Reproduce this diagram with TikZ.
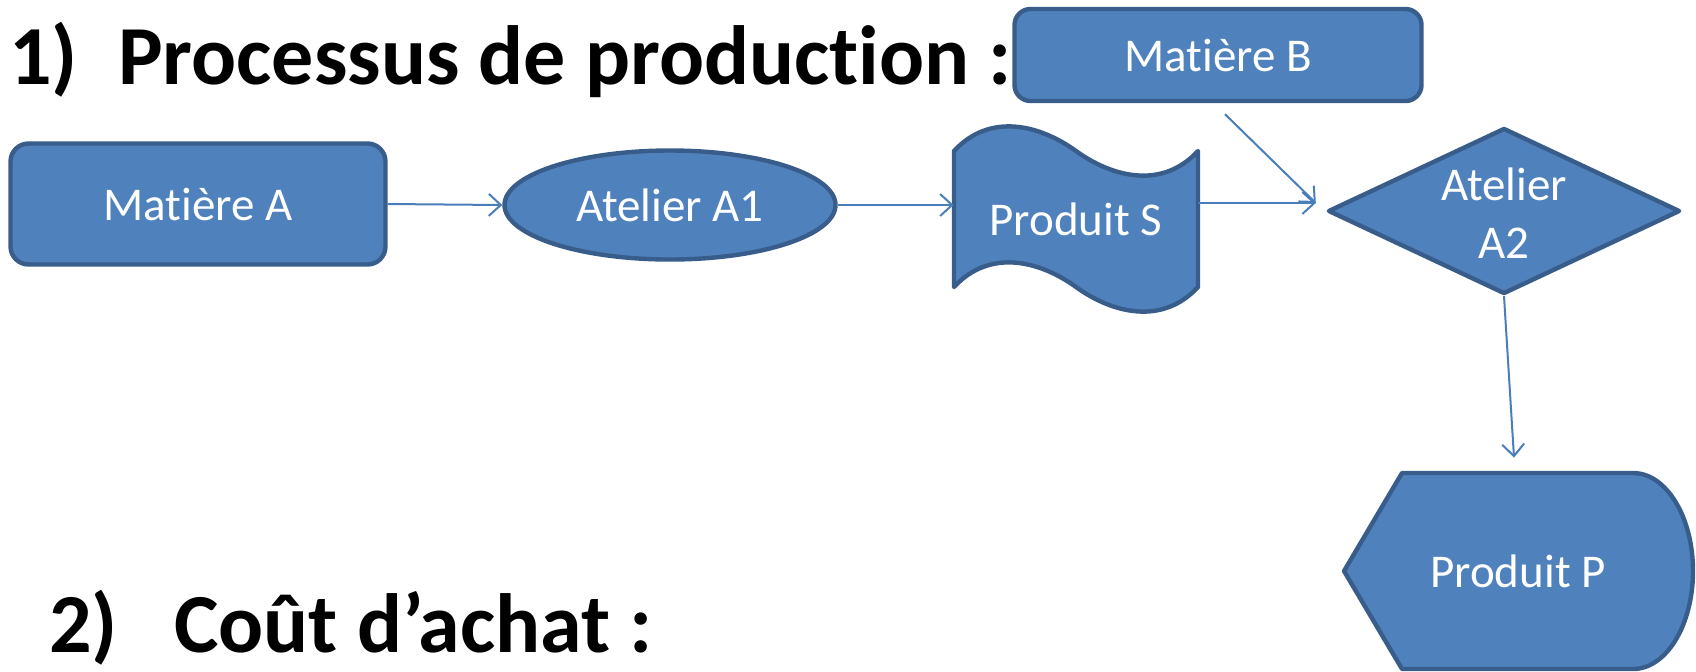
\documentclass[tikz,border=0pt]{standalone}
\usepackage{fontspec}
\setmainfont{Carlito}[Ligatures={NoCommon,NoRare,NoContextual}]
\usetikzlibrary{shapes.geometric,arrows.meta,calc}
\definecolor{fillblue}{HTML}{4F81BD}
\definecolor{edgeblue}{HTML}{385D8A}
\definecolor{linkblue}{HTML}{4A7EBB}
\tikzset{
  shapestyle/.style={draw=edgeblue, fill=fillblue, line width=2.2pt, line join=round},
  box/.style={shapestyle, text=white, font=\fontsize{23.5}{28.7}\selectfont, inner sep=0pt, align=center},
  lbl/.style={text=white, font=\fontsize{23.5}{28.7}\selectfont, inner sep=0pt, align=center},
  link/.style={draw=linkblue, line width=1pt, -{Straight Barb[length=6pt,width=11pt]}},
  heading/.style={font=\fontsize{42}{50}\selectfont\bfseries, anchor=base west, inner sep=0pt}
}
\begin{document}
\begin{tikzpicture}[x=0.5pt,y=-0.5pt]
\useasboundingbox (0,0) rectangle (1696,671);
% titles
\node[heading] (t1) at (9,84) {1)\hspace{20pt}Processus de production :};
\node[heading] (t2) at (49,652) {2)\hspace{28pt}Coût d’achat :};
% boxes
\node[box, rounded corners=9pt, minimum width=187.5pt, minimum height=60.5pt] (mA) at (198,204) {Matière A};
\node[box, rounded corners=8pt, minimum width=203.5pt, minimum height=46pt] (mB) at (1218,55) {Matière B};
\node[box, ellipse, minimum width=165.5pt, minimum height=54.5pt] (A1) at (670,205) {Atelier A1};
% Produit S (punched tape)
\draw[shapestyle] (954,151) .. controls (990,112) and (1040,125) .. (1076,151)
  .. controls (1112,177) and (1162,190) .. (1198,151)
  -- (1198,287) .. controls (1162,326) and (1112,313) .. (1076,287)
  .. controls (1040,261) and (990,248) .. (954,287) -- cycle;
\node[lbl, minimum width=122pt, minimum height=68pt] (S) at (1076,219) {Produit S};
% Atelier A2 (diamond)
\node[shapestyle, diamond, inner sep=0pt, minimum width=176pt, minimum height=83pt] (A2) at (1504,211) {};
\node[lbl] (A2t) at (1504,213) {Atelier\\A2};
% Produit P (display)
\draw[shapestyle] (1344,571) -- (1402,473) -- (1633,473)
  arc[start angle=90, end angle=-90, x radius=60, y radius=-98] -- (1402,669) -- cycle;
\node[lbl, minimum width=174.5pt, minimum height=98pt] (P) at (1518,571) {Produit P};
% connectors
\coordinate (a2in) at ($(A2.west)+(-10,-8)$);
\coordinate (bOut) at ($(mB.south)+(7,11)$);
\coordinate (pIn) at ($(P.north)+(-4,-15)$);
\draw[link] (mA.east) -- (A1.west);
\draw[link] (A1.east) -- (A1.east -| S.west);
\draw[link] (S.east |- a2in) -- (a2in);
\draw[link] (bOut) -- (a2in);
\draw[link] (A2.south) -- (pIn);
\end{tikzpicture}
\end{document}
